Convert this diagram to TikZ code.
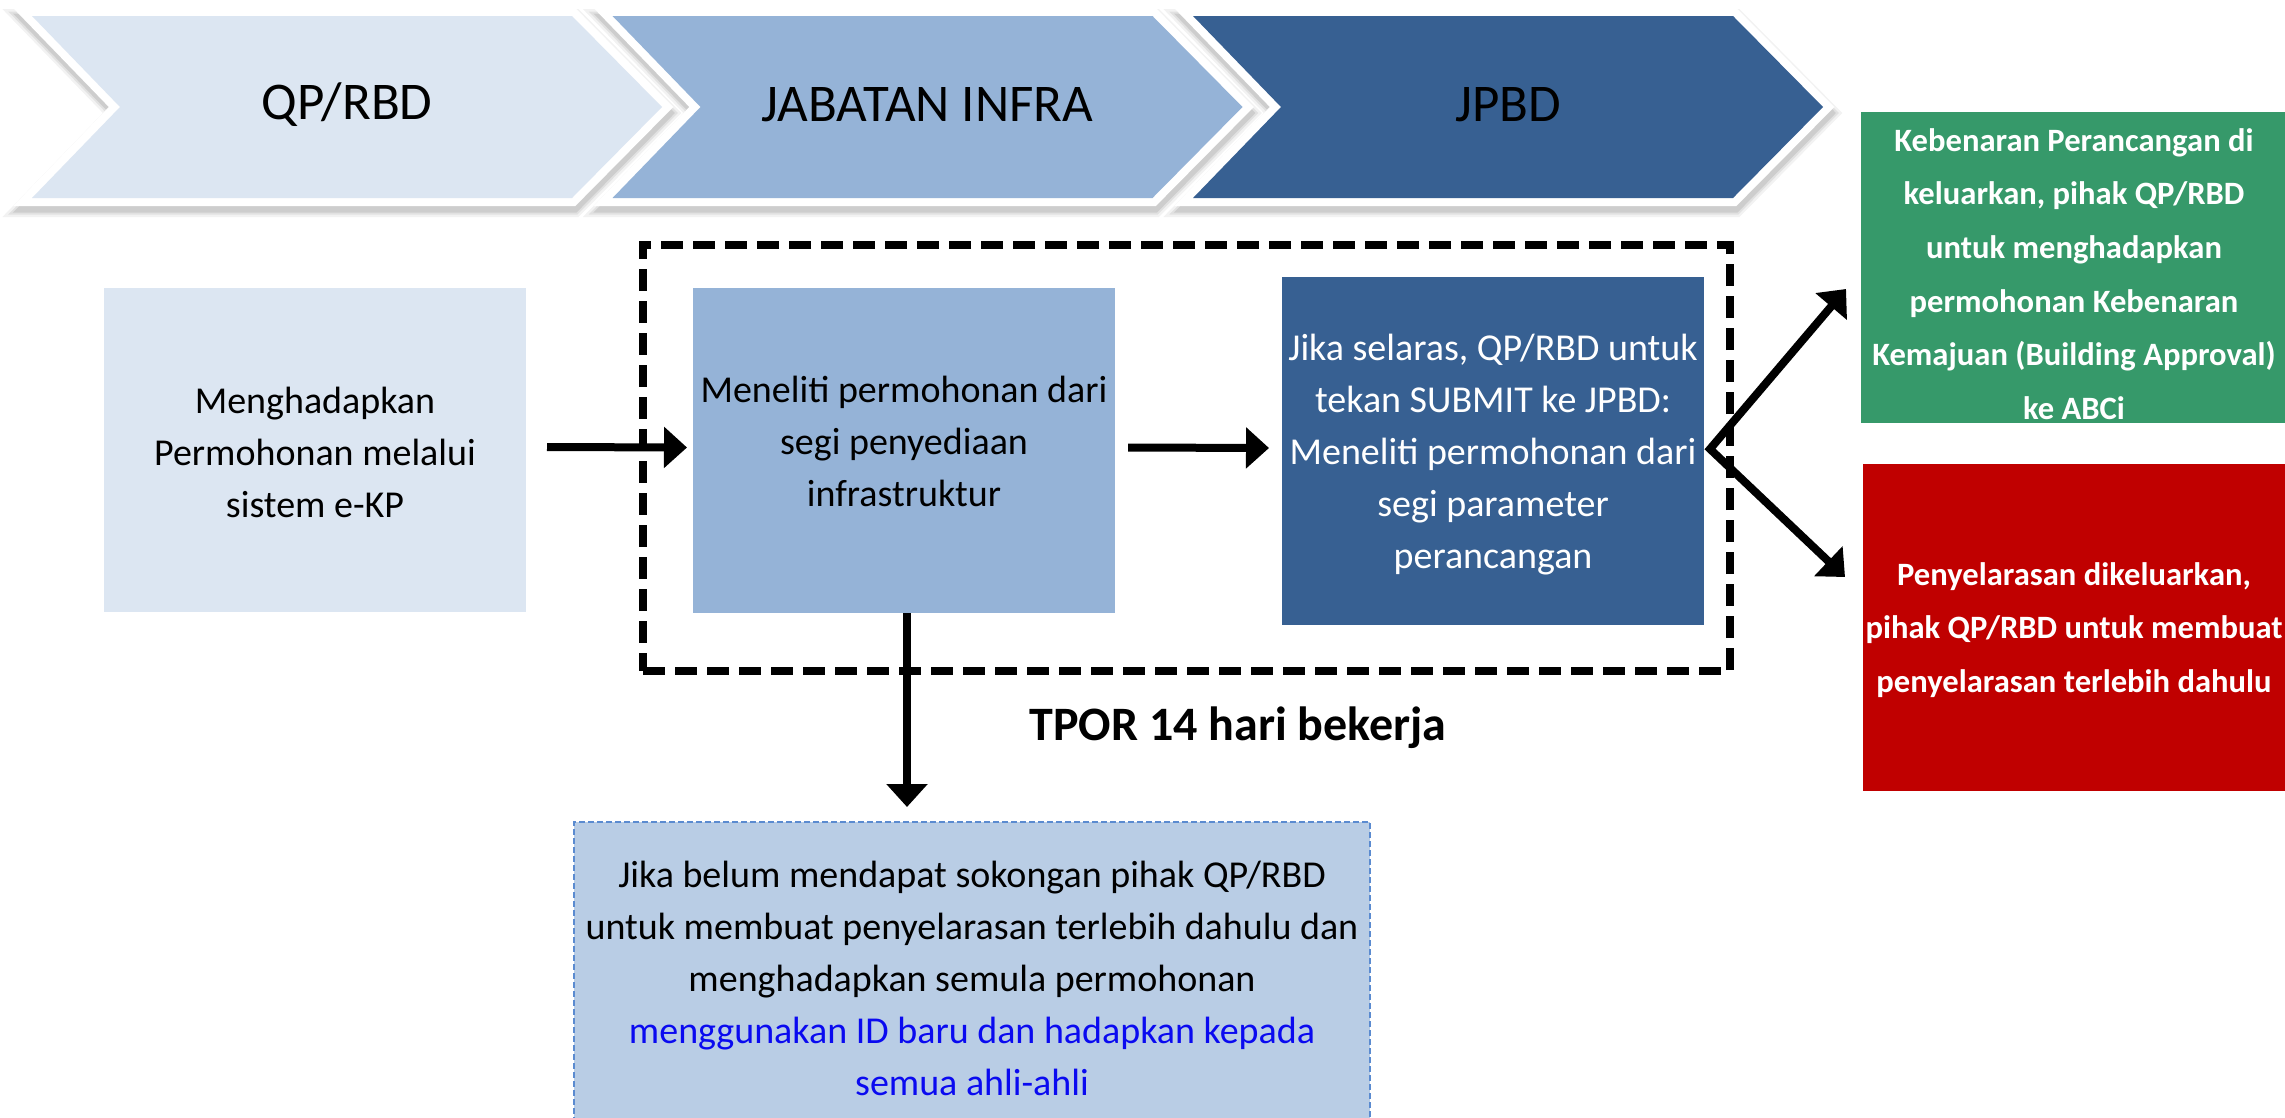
\documentclass[tikz,border=0pt]{standalone}
\usepackage{fontspec}
\setmainfont{Carlito}
\usetikzlibrary{arrows.meta}
\definecolor{cA}{HTML}{DCE6F2}
\definecolor{cB}{HTML}{95B3D7}
\definecolor{cC}{HTML}{376092}
\definecolor{cG}{HTML}{36996A}
\definecolor{cR}{HTML}{C00000}
\definecolor{cD}{HTML}{B9CDE5}
\definecolor{cDb}{HTML}{5B8BD0}
\definecolor{cBlue}{HTML}{0A0AF0}
\newcommand\chevshape{(0,16) -- (540,16) -- (630,107) -- (540,198) -- (0,198) -- (88,107) -- cycle}
\begin{document}
\begin{tikzpicture}[x=1pt,y=-1pt,
  box/.style={inner sep=0pt, outer sep=0pt, draw=none},
  body/.style={align=center, font=\fontsize{38}{52}\selectfont, inner sep=0pt},
  bold/.style={align=center, font=\fontsize{32.6}{53.6}\selectfont\bfseries, inner sep=0pt, text=white},
  chevtext/.style={font=\fontsize{53}{60}\selectfont, inner sep=0pt},
  arr/.style={line width=8pt, -{Triangle[length=23pt,width=40pt]}},
  frame/.style={draw=black, line width=8pt, dash pattern=on 22pt off 10pt, inner sep=0pt}
]
\useasboundingbox (0,0) rectangle (2285,1117);

% chevrons
\foreach \L/\c/\t/\n in {32/cA/QP\slash RBD/h1, 612.5/cB/JABATAN INFRA/h2, 1193/cC/JPBD/h3}{
  \begin{scope}[shift={(\L,0)}]
    \foreach \op/\lw in {0.05/26pt,0.07/21pt,0.09/17pt}{
      \path[shift={(1,6)}, draw=black, fill=black, opacity=\op, line width=\lw, line join=miter] \chevshape;
    }
    \path[draw=white, fill=white, line width=16pt, line join=miter] \chevshape;
    \path[fill=\c] \chevshape;
    \node[chevtext] (\n) at (315,105) {\t};
  \end{scope}
}

% dashed frame
\node[frame, minimum width=1087pt, minimum height=426pt] (F) at (1186.5,458) {};

% boxes
\node[box, fill=cA, minimum width=422pt, minimum height=324pt] (A) at (315,450) {};
\node[box, fill=cB, minimum width=422pt, minimum height=325pt] (B) at (904,450.5) {};
\node[box, fill=cC, minimum width=422pt, minimum height=348pt] (C) at (1493,451) {};
\node[box, fill=cG, minimum width=429pt, minimum height=311pt] (G) at (2075.5,267.5) {};
\node[box, fill=cR, minimum width=427pt, minimum height=327pt] (R) at (2076.5,627.5) {};
\node[box, fill=cD, draw=cDb, line width=2pt, dash pattern=on 6pt off 3pt,
      minimum width=796pt, minimum height=318pt] (D) at (972,981) {};

% texts
\node[body] (At) at (315,452) {Menghadapkan\\Permohonan melalui\\sistem e-KP};
\node[body] (Bt) at (904,441) {Meneliti permohonan dari\\segi penyediaan\\infrastruktur};
\node[body, text=white] (Ct) at (1493,455) {Jika selaras, QP/RBD untuk\\tekan SUBMIT ke JPBD:\\Meneliti permohonan dari\\segi parameter\\perancangan};
\node[bold] (Gt) at (2074,274) {Kebenaran Perancangan di\\keluarkan, pihak QP/RBD\\untuk menghadapkan\\permohonan Kebenaran\\Kemajuan (Building Approval)\\ke ABCi};
\node[bold] (Rt) at (2074,630) {Penyelarasan dikeluarkan,\\pihak QP/RBD untuk membuat\\penyelarasan terlebih dahulu};
\node[body] (Dt) at (972,978) {Jika belum mendapat sokongan pihak QP/RBD\\untuk membuat penyelarasan terlebih dahulu dan\\menghadapkan semula permohonan\\\textcolor{cBlue}{menggunakan ID baru dan hadapkan kepada}\\\textcolor{cBlue}{semua ahli-ahli}};
\node[inner sep=0pt, font=\fontsize{48}{54}\selectfont\bfseries] (T) at (1238,728) {TPOR 14 hari bekerja};

% connectors
\draw[arr] ([xshift=21pt,yshift=3pt]A.east) -- ([xshift=-6pt,yshift=3pt]B.west);
\draw[arr] ([xshift=13pt,yshift=3pt]B.east) -- ([xshift=-13pt,yshift=3pt]C.west);
\draw[arr] ([xshift=3pt]B.south) -- ([xshift=3pt,yshift=15pt]B.south |- D.north);
\coordinate (ap) at (1710,449);
\coordinate (gtip) at (1846,289);
\coordinate (rtip) at (1845,577);
\draw[line width=8pt, line join=miter, {Triangle[length=23pt,width=40pt]}-{Triangle[length=23pt,width=40pt]}] (gtip) -- (ap) -- (rtip);
\end{tikzpicture}
\end{document}
